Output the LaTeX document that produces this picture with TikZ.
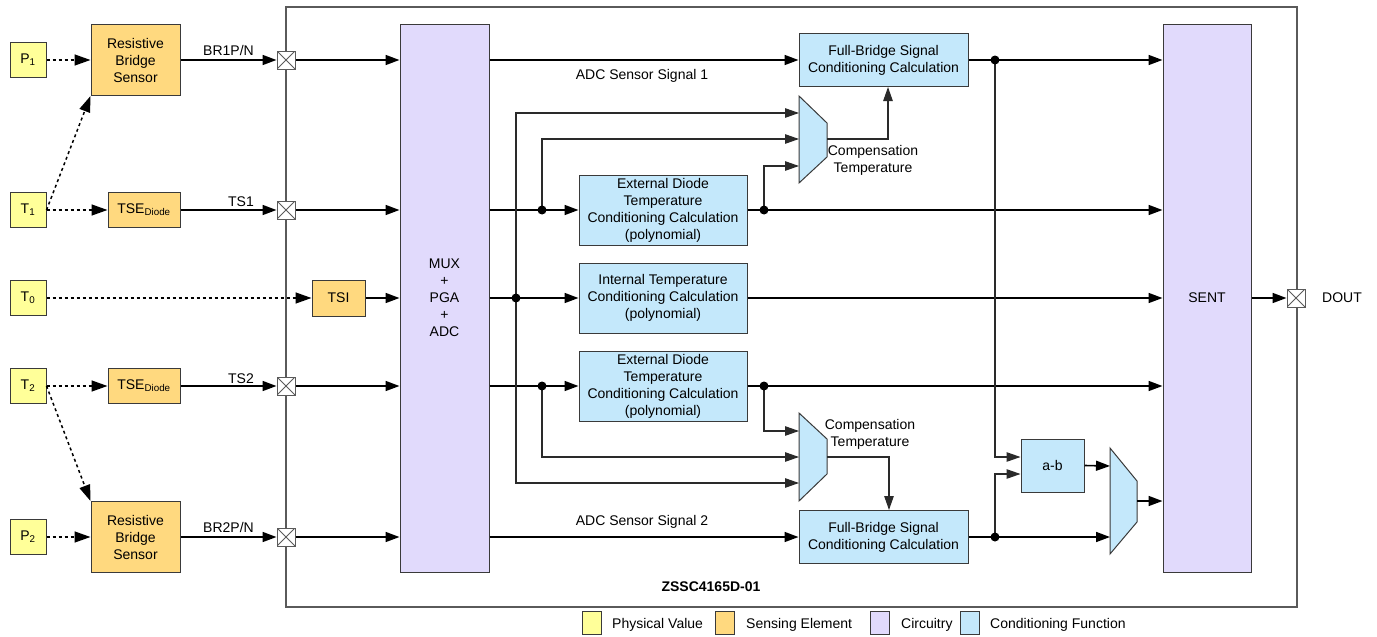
\documentclass[tikz,border=0pt]{standalone}
\usepackage{fontspec}
\setmainfont{Liberation Sans}
\usetikzlibrary{arrows.meta,calc}

\definecolor{physfill}{HTML}{FFFF99}
\definecolor{sensfill}{HTML}{FFD97F}
\definecolor{circfill}{HTML}{E1DAFC}
\definecolor{condfill}{HTML}{C4E8FB}
\definecolor{edgecol}{HTML}{3A3A3A}
\definecolor{framecol}{HTML}{5A5A5A}
\definecolor{auxcol}{HTML}{2A2A2A}

\begin{document}
\begin{tikzpicture}[x=1pt,y=-1pt,
  font=\fontsize{14}{17}\selectfont,
  box/.style={draw=edgecol, line width=1pt, inner sep=0pt, align=center},
  phys/.style={box, fill=physfill, minimum width=36pt, minimum height=35pt},
  sens/.style={box, fill=sensfill},
  circ/.style={box, fill=circfill},
  cond/.style={box, fill=condfill},
  trap/.style={draw=edgecol, line width=1pt, fill=condfill},
  sig/.style={line width=1.6pt, -{Triangle[length=14pt,width=10pt]}},
  sigplain/.style={line width=1.6pt},
  aux/.style={line width=1.1pt, draw=auxcol, -{Triangle[length=14pt,width=9.5pt]}},
  dotline/.style={line width=1.5pt, dash pattern=on 3pt off 3pt, -{Triangle[length=16pt,width=11pt]}},
  pin/.style={draw=framecol, fill=white, line width=1pt, minimum size=18pt, inner sep=0pt,
    path picture={\draw[line width=0.8pt]
      (path picture bounding box.north west) -- (path picture bounding box.south east)
      (path picture bounding box.north east) -- (path picture bounding box.south west);}},
  legsq/.style={draw=edgecol, line width=1pt, minimum width=19pt, minimum height=23pt, inner sep=0pt},
  lbl/.style={inner sep=0pt}
]
\useasboundingbox (0,0) rectangle (1377,637);

% chip outline
\draw[framecol, line width=1.3pt] (286,7) rectangle (1297,607);

% physical values
\node[phys] (p1) at (28,60) {P\textsubscript{1}};
\node[phys] (t1) at (28,210) {T\textsubscript{1}};
\node[phys] (t0) at (28,298) {T\textsubscript{0}};
\node[phys] (t2) at (28,386) {T\textsubscript{2}};
\node[phys] (p2) at (28,537) {P\textsubscript{2}};

% sensing elements
\node[sens, minimum width=89pt, minimum height=71pt] (rbs1) at (135.5,60) {Resistive\\Bridge\\Sensor};
\node[sens, minimum width=72pt, minimum height=35pt] (tse1) at (144,210) {TSE\textsubscript{Diode}};
\node[sens, minimum width=53pt, minimum height=36pt] (tsi) at (338.5,298) {TSI};
\node[sens, minimum width=72pt, minimum height=35pt] (tse2) at (144,386) {TSE\textsubscript{Diode}};
\node[sens, minimum width=89pt, minimum height=71pt] (rbs2) at (135.5,537) {Resistive\\Bridge\\Sensor};

% pins
\node[pin] (pin1) at (286,60) {};
\node[pin] (pin2) at (286,210) {};
\node[pin] (pin3) at (286,386) {};
\node[pin] (pin4) at (286,537) {};
\node[pin] (pout) at (1296,298) {};
\node[lbl, anchor=west] (dout) at (1322,298) {DOUT};

% circuitry
\node[circ, minimum width=89pt, minimum height=548pt] (mux) at (444.5,298) {MUX\\+\\PGA\\+\\ADC};
\node[circ, minimum width=88pt, minimum height=548pt] (sent) at (1207,298) {SENT};

% conditioning functions
\node[cond, minimum width=169pt, minimum height=53pt] (fb1) at (883.5,60) {Full-Bridge Signal\\Conditioning Calculation};
\node[cond, minimum width=168pt, minimum height=70pt] (ed1) at (663,210) {External Diode\\Temperature\\Conditioning Calculation\\(polynomial)};
\node[cond, minimum width=168pt, minimum height=70pt] (it) at (663,298) {Internal Temperature\\Conditioning Calculation\\(polynomial)};
\node[cond, minimum width=168pt, minimum height=70pt] (ed2) at (663,386.5) {External Diode\\Temperature\\Conditioning Calculation\\(polynomial)};
\node[cond, minimum width=169pt, minimum height=53pt] (fb2) at (883.5,537) {Full-Bridge Signal\\Conditioning Calculation};
\node[cond, minimum width=63pt, minimum height=53pt] (ab) at (1052.5,465.5) {a-b};

% selectors
\draw[trap] (799,96) -- (827,123) -- (827,157) -- (799,183) -- cycle;
\draw[trap] (799,413) -- (827,439) -- (827,474) -- (799,501) -- cycle;
\draw[trap] (1110,448) -- (1137,481) -- (1137,522) -- (1110,554) -- cycle;
\coordinate (m1a) at (799,113);
\coordinate (m1b) at (799,139);
\coordinate (m1c) at (799,166);
\coordinate (m1o) at (827,139);
\coordinate (m2a) at (799,431);
\coordinate (m2b) at (799,457);
\coordinate (m2c) at (799,483);
\coordinate (m2o) at (827,457);
\coordinate (m3a) at (1110,466);
\coordinate (m3b) at (1110,537);
\coordinate (m3o) at (1137,501);
\node[lbl, align=center] (ct1) at (873,160) {Compensation\\Temperature};
\node[lbl, align=center] (ct2) at (870,434) {Compensation\\Temperature};

% junctions
\coordinate (j1) at (542,210);
\coordinate (j2) at (764,210);
\coordinate (j3) at (516,298);
\coordinate (j4) at (542,386);
\coordinate (j5) at (764,386);
\coordinate (j6) at (995,537);
\coordinate (j7) at (995,60);

% physical value to sensing element
\draw[dotline] (p1.east) -- (p1.east -| rbs1.west);
\draw[dotline] (t1.east) -- (rbs1.south west);
\draw[dotline] (t1.east) -- (t1.east -| tse1.west);
\draw[dotline] (t0.east) -- (t0.east -| tsi.west);
\draw[dotline] (t2.east) -- (t2.east -| tse2.west);
\draw[dotline] (t2.east) -- (rbs2.north west);
\draw[dotline] (p2.east) -- (p2.east -| rbs2.west);

% sensing elements to pins
\draw[sig] (rbs1.east) -- (pin1.west);
\draw[sig] (tse1.east) -- (pin2.west);
\draw[sig] (tse2.east) -- (pin3.west);
\draw[sig] (rbs2.east) -- (pin4.west);
\node[lbl, anchor=base east] at (254,55) {BR1P/N};
\node[lbl, anchor=base east] at (254,206) {TS1};
\node[lbl, anchor=base east] at (254,383) {TS2};
\node[lbl, anchor=base east] at (254,532) {BR2P/N};

% pins to MUX
\draw[sig] (pin1.east) -- (pin1.east -| mux.west);
\draw[sig] (pin2.east) -- (pin2.east -| mux.west);
\draw[sig] (tsi.east) -- (tsi.east -| mux.west);
\draw[sig] (pin3.east) -- (pin3.east -| mux.west);
\draw[sig] (pin4.east) -- (pin4.east -| mux.west);

% MUX outputs
\draw[sig] (mux.east |- fb1.west) -- (fb1.west);
\node[lbl] at (642,76) {ADC Sensor Signal 1};
\draw[sigplain] (mux.east |- j1) -- (j1);
\draw[sig] (j1) -- (ed1.west);
\draw[sigplain] (mux.east |- j3) -- (j3);
\draw[sig] (j3) -- (it.west);
\draw[sigplain] (mux.east |- j4) -- (j4);
\draw[sig] (j4) -- (j4 -| ed2.west);
\draw[sig] (mux.east |- fb2.west) -- (fb2.west);
\node[lbl] at (642,522) {ADC Sensor Signal 2};

% conditioning outputs to SENT
\draw[sigplain] (fb1.east) -- (j7);
\draw[sig] (j7) -- (j7 -| sent.west);
\draw[sigplain] (ed1.east) -- (j2);
\draw[sig] (j2) -- (j2 -| sent.west);
\draw[sig] (it.east) -- (it.east -| sent.west);
\draw[sigplain] (ed2.east |- j5) -- (j5);
\draw[sig] (j5) -- (j5 -| sent.west);
\draw[sigplain] (fb2.east) -- (j6);
\draw[sig] (j6) -- (m3b);

% temperature compensation selectors
\draw[aux] (j3) |- (m1a);
\draw[aux] (j1) |- (m1b);
\draw[aux] (j2) |- (m1c);
\draw[aux] (j5) |- (m2a);
\draw[aux] (j4) |- (m2b);
\draw[aux] (j3) |- (m2c);
\draw[aux] (m1o) -| ([xshift=4.5pt]fb1.south);
\draw[aux] (m2o) -| ([xshift=5.5pt]fb2.north);

% difference path
\draw[aux] (j7) |- ($(ab.west)+(0,-8.5)$);
\draw[aux] (j6) |- ($(ab.west)+(0,8.5)$);
\draw[sig] (ab.east) -- (m3a);
\draw[sig] (m3o) -- (m3o -| sent.west);
\draw[sig] (sent.east) -- (pout.west);

% junction dots
\foreach \j in {j1,j2,j3,j4,j5,j6,j7} \fill (\j) circle[radius=4.5pt];

% device name
\node[lbl, font=\fontsize{14}{17}\selectfont\bfseries] at (711,587) {ZSSC4165D-01};

% legend
\node[legsq, fill=physfill] (lg1) at (592,622.5) {};
\node[lbl, anchor=west] at (612,625) {Physical Value};
\node[legsq, fill=sensfill] (lg2) at (724.5,622.5) {};
\node[lbl, anchor=west] at (746,625) {Sensing Element};
\node[legsq, fill=circfill] (lg3) at (879.5,622.5) {};
\node[lbl, anchor=west] at (901,625) {Circuitry};
\node[legsq, fill=condfill] (lg4) at (969.5,622.5) {};
\node[lbl, anchor=west] at (990,625) {Conditioning Function};
\end{tikzpicture}
\end{document}
